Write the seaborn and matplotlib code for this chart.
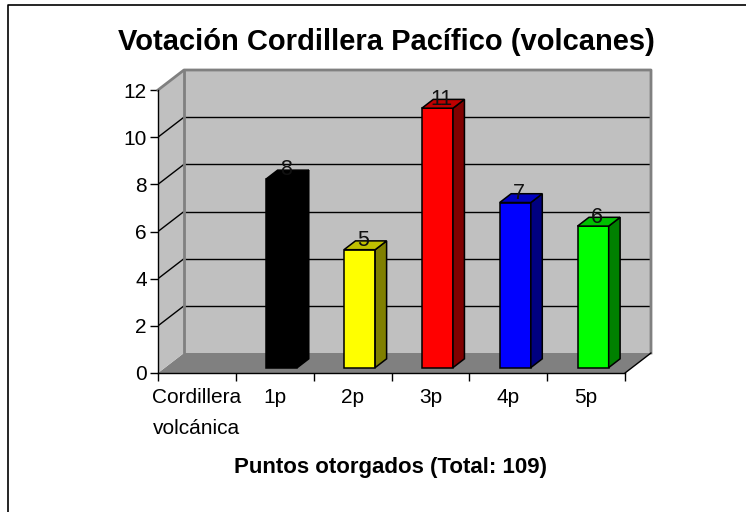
import numpy as np
import pandas as pd
import matplotlib
matplotlib.use('Agg')
import matplotlib.pyplot as plt
from matplotlib.patches import Polygon, Rectangle
from matplotlib.lines import Line2D
import seaborn as sns

# data
categories = ['Cordillera\nvolcánica', '1p', '2p', '3p', '4p', '5p']
votes = [None, 8, 5, 11, 7, 6]
front_colors = ['#000000', '#000000', '#FFFF00', '#FF0000', '#0000FF', '#00FF00']
side_colors = ['#000000', '#000000', '#808000', '#800000', '#000080', '#008000']
top_colors = ['#000000', '#000000', '#C0C000', '#C00000', '#0000C0', '#00C000']
y_ticks = [0, 2, 4, 6, 8, 10, 12]
title = 'Votación Cordillera Pacífico (volcanes)'
x_title = 'Puntos otorgados (Total: 109)'

sns.set_style('white')
plt.rcParams['font.family'] = ['Liberation Sans', 'DejaVu Sans']
plt.rcParams['text.color'] = 'black'
plt.rcParams['xtick.color'] = 'black'
plt.rcParams['ytick.color'] = 'black'
plt.rcParams['xtick.labelcolor'] = 'black'
plt.rcParams['ytick.labelcolor'] = 'black'

W, H = 746, 512
fig = plt.figure(figsize=(W / 100, H / 100), dpi=100)

# 3d depth in data units
DX = 0.334
DY = 0.848
F0, F1 = 0.27, 0.71   # bar depth (front / back fraction)
xunit = 467 / 6
yunit = 283 / 12
ax = fig.add_axes([158 / W, (H - 373) / H, (6 + DX) * xunit / W, (12 + DY) * yunit / H])

df = pd.DataFrame({'cat': categories, 'votes': votes}).dropna()
pal = dict(zip(categories, front_colors))
sns.barplot(data=df, x='cat', y='votes', hue='cat', order=categories,
            hue_order=categories, palette=pal, width=0.4, legend=False,
            edgecolor='black', linewidth=1.1, saturation=1, ax=ax, zorder=3)

ax.set_xlim(-0.5, 5.5 + DX)
ax.set_ylim(0, 12 + DY)

x0, x1 = -0.5, 5.5
wall = '#C0C0C0'
edge = '#808080'
# floor, side wall, back wall
ax.add_patch(Polygon([(x0, 0), (x1, 0), (x1 + DX, DY), (x0 + DX, DY)],
                     closed=True, fc='#808080', ec='none', zorder=0))
ax.add_patch(Polygon([(x0, 0), (x0, 12), (x0 + DX, 12 + DY), (x0 + DX, DY)],
                     closed=True, fc=wall, ec='none', zorder=0))
ax.add_patch(Rectangle((x0 + DX, DY), 6, 12, fc=wall, ec='none', zorder=0))
for v in y_ticks[1:-1]:
    ax.plot([x0 + DX, x1 + DX], [v + DY, v + DY], color='black', lw=1, zorder=1)
    ax.plot([x0, x0 + DX], [v, v + DY], color='black', lw=1, zorder=1)
ax.plot([x0, x0 + DX, x1 + DX, x1 + DX], [12, 12 + DY, 12 + DY, DY],
        color=edge, lw=2, zorder=1, solid_capstyle='projecting', clip_on=False)
ax.plot([x0 + DX, x0 + DX], [DY, 12 + DY], color=edge, lw=2, zorder=1)
ax.plot([x1, x1 + DX], [0, DY], color='black', lw=1, zorder=2, clip_on=False)

# 3d bar faces + labels
for p in ax.patches:
    if not isinstance(p, Rectangle) or p.get_zorder() != 3:
        continue
    h = p.get_height()
    if not np.isfinite(h) or h <= 0:
        continue
    i = int(round(p.get_x() + p.get_width() / 2))
    p.set_x(p.get_x() + F0 * DX)
    p.set_y(F0 * DY)
    bx0 = p.get_x()
    bx1 = bx0 + p.get_width()
    base = F0 * DY
    top = base + h
    ddx = (F1 - F0) * DX
    ddy = (F1 - F0) * DY
    ax.add_patch(Polygon([(bx1, base), (bx1 + ddx, base + ddy), (bx1 + ddx, top + ddy), (bx1, top)],
                         closed=True, fc=side_colors[i], ec='black', lw=1.1, zorder=3))
    ax.add_patch(Polygon([(bx0, top), (bx1, top), (bx1 + ddx, top + ddy), (bx0 + ddx, top + ddy)],
                         closed=True, fc=top_colors[i], ec='black', lw=1.1, zorder=3))
    ax.text((bx0 + bx1) / 2 + ddx * 0.35, top + ddy * 0.4, f'{int(h)}',
            ha='center', va='baseline', fontsize=15.5, color='#111111', zorder=4)

for s in ['top', 'right']:
    ax.spines[s].set_visible(False)
ax.spines['left'].set_bounds(0, 12)
ax.spines['bottom'].set_bounds(x0, x1)
for s in ['left', 'bottom']:
    ax.spines[s].set_color('black')
    ax.spines[s].set_linewidth(1)
    ax.spines[s].set_zorder(2)

ax.set_yticks(y_ticks)
ax.set_yticklabels([str(v) for v in y_ticks], fontsize=15)
ax.set_xticks(np.arange(-0.5, 6.0, 1.0))
ax.set_xticklabels([])
ax.set_xticks(range(len(categories)), minor=True)
ax.set_xticklabels(categories, minor=True, fontsize=15, linespacing=1.75, va='top')
ax.tick_params(axis='y', direction='out', length=6, width=1, color='black', pad=2, left=True)
ax.tick_params(axis='x', which='major', direction='out', length=6, width=1, color='black', bottom=True)
ax.tick_params(axis='x', which='minor', length=0, pad=11)
ax.set_xlabel('')
ax.set_ylabel('')

fig.text(386 / W, 1 - 42 / H, title, ha='center', va='center', fontsize=21, fontweight='bold')
fig.text(391 / W, 1 - 468 / H, x_title, ha='center', va='center', fontsize=16, fontweight='bold')

# chart frame (top and left edges visible)
fig.add_artist(Line2D([8 / W, 8 / W, 1], [0, 1 - 5 / H, 1 - 5 / H], color='black', lw=1.2,
                      transform=fig.transFigure))

fig.savefig('out.png', dpi=100)
